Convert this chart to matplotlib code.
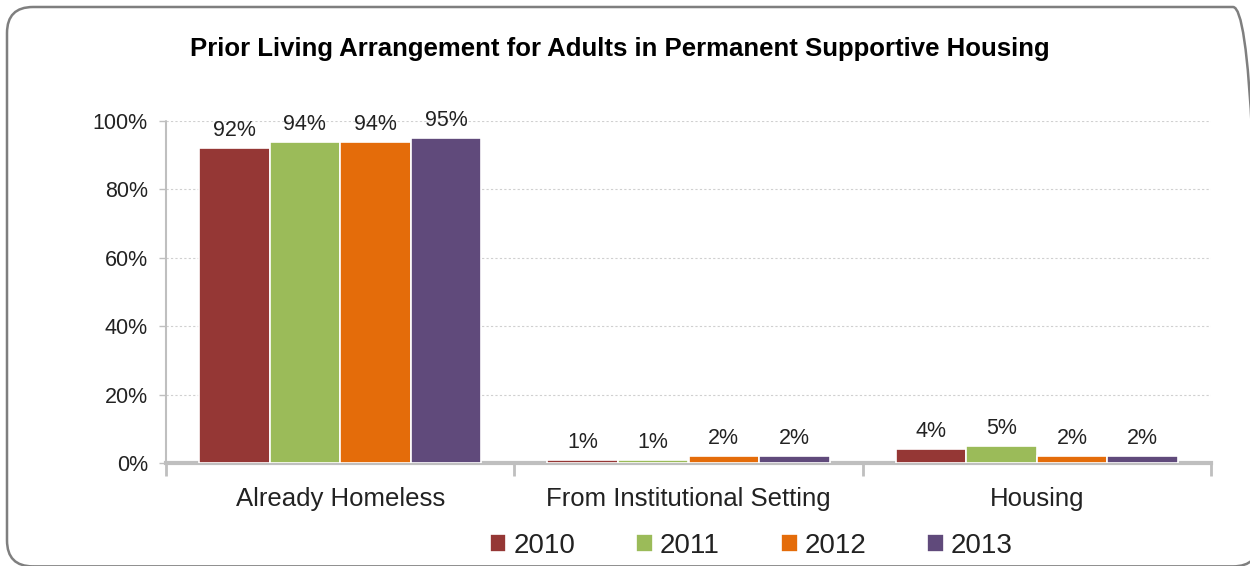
import numpy as np
import matplotlib.pyplot as plt
from matplotlib.patches import FancyBboxPatch

categories = ["Already Homeless", "From Institutional Setting", "Housing"]
years = ["2010", "2011", "2012", "2013"]
pct_2010 = [92, 1, 4]
pct_2011 = [94, 1, 5]
pct_2012 = [94, 2, 2]
pct_2013 = [95, 2, 2]
colors = ["#953735", "#9bbb59", "#e46c0a", "#604a7b"]

plt.rcParams['font.family'] = ['Liberation Sans', 'DejaVu Sans']

fig = plt.figure(figsize=(12.5, 5.66), dpi=100)

# rounded frame around the whole chart (inches), running slightly past the right/bottom edge
frame = FancyBboxPatch((0.07, -0.004), 12.52, 5.594,
                       boxstyle="round,pad=0,rounding_size=0.26",
                       transform=fig.dpi_scale_trans, facecolor="none",
                       edgecolor="#7f7f7f", linewidth=1.8, zorder=-1)
fig.patches.append(frame)

ax = fig.add_axes([166 / 1250, 1 - 463 / 566, (1211 - 166) / 1250, (463 - 121) / 566])
ax.set_facecolor("none")

x = np.arange(len(categories))
width = 0.2025
series = [pct_2010, pct_2011, pct_2012, pct_2013]
for i, (vals, c, yr) in enumerate(zip(series, colors, years)):
    pos = x + (i - 1.5) * width
    ax.bar(pos, vals, width, color=c, edgecolor="white", linewidth=1.2, label=yr, zorder=3)
    for px, v in zip(pos, vals):
        ax.annotate(f"{v}%", (px, v), xytext=(0, 5), textcoords="offset points",
                    ha="center", va="bottom", fontsize=15.5, color="#222222")

ax.set_xlim(-0.5, len(categories) - 0.5)
ax.set_ylim(0, 100)
ax.set_yticks(range(0, 101, 20))
ax.set_yticklabels([f"{v}%" for v in range(0, 101, 20)], fontsize=15.5, color="#222222")
ax.yaxis.grid(True, linestyle=(0, (2, 2)), color="#d0d0d0", linewidth=0.8, zorder=0)

# category labels sit between boundary ticks
ax.set_xticks(np.arange(-0.5, len(categories)), minor=False)
ax.set_xticklabels([])
ax.set_xticks(x, minor=True)
ax.set_xticklabels(categories, minor=True, fontsize=18.5, color="#222222")
ax.tick_params(axis="x", which="major", length=9, width=2, color="#bfbfbf", direction="out")
ax.tick_params(axis="x", which="minor", length=0, pad=17)
ax.tick_params(axis="y", length=5, width=1, color="#bfbfbf", pad=8)

for side in ["top", "right"]:
    ax.spines[side].set_visible(False)
ax.spines["bottom"].set_color("#bfbfbf")
ax.spines["bottom"].set_linewidth(3)
ax.spines["left"].set_color("#bfbfbf")
ax.spines["left"].set_linestyle((0, (1.5, 1)))
ax.spines["left"].set_linewidth(1.5)

fig.text(0.496, 1 - 49 / 566, "Prior Living Arrangement for Adults in Permanent Supportive Housing",
         ha="center", va="center", fontsize=18.5, fontweight="bold", color="black")

fig.legend(loc="center", bbox_to_anchor=(0.601, 1 - 546 / 566), ncol=4, frameon=False,
           fontsize=20, handlelength=0.6, handleheight=0.6, handletextpad=0.25,
           columnspacing=2.2, labelcolor="#222222")

fig.savefig("out.png", dpi=100)
